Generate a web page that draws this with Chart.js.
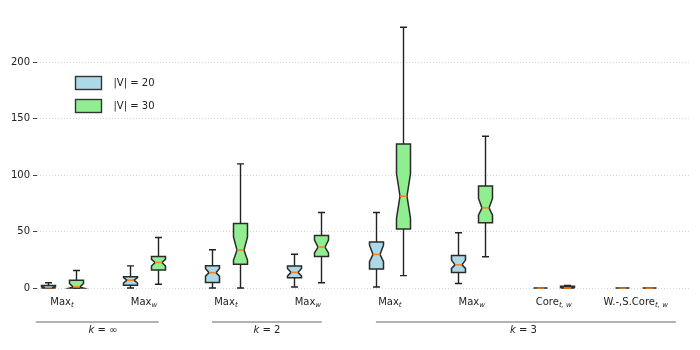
<!DOCTYPE html>
<html>
<head>
<meta charset="utf-8">
<script src="https://cdn.jsdelivr.net/npm/chart.js@4.4.0/dist/chart.umd.min.js"></script>
<style>
  html, body { margin: 0; padding: 0; background: #fff; }
  #wrap { width: 700px; height: 350px; }
</style>
</head>
<body>
<div id="wrap"><canvas id="boxChart" width="700" height="350"></canvas></div>
<script>
// categories: main text + subscript
const catNames = ["Max", "Max", "Max", "Max", "Max", "Max", "Core", "W.-,S.Core"];
const catSubs = ["t", "w", "t", "w", "t", "w", "t, w", "t, w"];

// groups under the axis (k = ...), spans in category units
const groupNames = ["\u221E", "2", "3"];
const groupSpans = [[0.68, 2.18], [2.83, 4.17], [4.83, 8.49]];
const groupLabelX = [1.5, 3.5, 6.63];

const yTicks = [0, 50, 100, 150, 200];

// box stats per category: [whiskerLo, q1, notchLo, median, notchHi, q3, whiskerHi]
const boxesV20 = [
  [0, 0, 0, 0.3, 1.2, 2.3, 4.7],
  [0, 2.6, 4.5, 7, 9.2, 10, 19.7],
  [0, 5, 10.6, 13.6, 17.4, 19.7, 34],
  [1, 9.1, 10.6, 13.9, 17.4, 19.5, 30],
  [1, 16.8, 23.3, 29.8, 38, 40.7, 67],
  [4, 13.9, 17.4, 20.6, 24.8, 28.9, 49],
  [0, 0, 0, 0, 0, 0, 0],
  [0, 0, 0, 0, 0, 0, 0]
];
const boxesV30 = [
  [0, 0, 0, 1, 4, 7, 15.6],
  [3.4, 16, 19.5, 22.7, 25.4, 28, 44.8],
  [0, 21.2, 24.8, 33.6, 45.4, 57.2, 110],
  [4.7, 28, 31.2, 36.3, 42.5, 46.6, 67],
  [11, 52.3, 61.7, 81.4, 101.5, 127.6, 231],
  [27.7, 57.8, 64.6, 71, 79.4, 90.5, 134.5],
  [0, 0, 0, 0, 0.8, 1.6, 2.3],
  [0, 0, 0, 0, 0, 0, 0]
];

const BOX_HALF = 0.09;
const FONT = "'DejaVu Sans', sans-serif";

function medianPoints(stats, offset) {
  return stats.map((s, i) => ({ x: i + 1 + offset, y: s[3] }));
}

const boxPlugin = {
  id: "notchedBoxes",
  afterDatasetsDraw(chart) {
    const { ctx, scales: { x, y } } = chart;
    ctx.save();
    ctx.lineJoin = "miter";
    chart.data.datasets.forEach(ds => {
      ds.stats.forEach((s, i) => {
        const pos = i + 1 + ds.offset;
        const cx = Math.round(x.getPixelForValue(pos)) + 0.5;
        const hw = Math.round(x.getPixelForValue(pos + BOX_HALF) - x.getPixelForValue(pos));
        const [lo, q1, nlo, med, nhi, q3, hi] = s.map(v => y.getPixelForValue(v));
        const L = cx - hw, R = cx + hw;

        // whiskers + caps
        ctx.strokeStyle = "#222";
        ctx.lineWidth = 1.4;
        ctx.beginPath();
        ctx.moveTo(cx, q1); ctx.lineTo(cx, lo);
        ctx.moveTo(cx, q3); ctx.lineTo(cx, hi);
        ctx.moveTo(cx - hw / 2, lo); ctx.lineTo(cx + hw / 2, lo);
        ctx.moveTo(cx - hw / 2, hi); ctx.lineTo(cx + hw / 2, hi);
        ctx.stroke();

        // notched box
        ctx.beginPath();
        ctx.moveTo(L, q1);
        ctx.lineTo(R, q1);
        ctx.lineTo(R, nlo);
        ctx.lineTo(cx + hw / 2, med);
        ctx.lineTo(R, nhi);
        ctx.lineTo(R, q3);
        ctx.lineTo(L, q3);
        ctx.lineTo(L, nhi);
        ctx.lineTo(cx - hw / 2, med);
        ctx.lineTo(L, nlo);
        ctx.closePath();
        ctx.fillStyle = ds.backgroundColor;
        ctx.fill();
        ctx.strokeStyle = "#2a2a2a";
        ctx.lineWidth = 1.5;
        ctx.stroke();

        // median
        ctx.strokeStyle = "#ff7f0e";
        ctx.lineWidth = 1.5;
        ctx.beginPath();
        ctx.moveTo(cx - hw / 2, med);
        ctx.lineTo(cx + hw / 2, med);
        ctx.stroke();
      });
    });
    ctx.restore();
  },
  afterDraw(chart) {
    const { ctx, chartArea, scales: { x } } = chart;
    ctx.save();
    ctx.fillStyle = "#222";
    ctx.textBaseline = "alphabetic";

    // category labels with subscripts
    catNames.forEach((name, i) => {
      const cx = x.getPixelForValue(i + 1);
      ctx.font = "10px " + FONT;
      const w1 = ctx.measureText(name).width;
      ctx.font = "italic 7px " + FONT;
      const w2 = ctx.measureText(catSubs[i]).width;
      const start = cx - (w1 + w2) / 2;
      ctx.font = "10px " + FONT;
      ctx.fillText(name, start, chartArea.bottom + 13.5);
      ctx.font = "italic 7px " + FONT;
      ctx.fillText(catSubs[i], start + w1, chartArea.bottom + 16);
    });

    // group brackets
    groupSpans.forEach((sp, gi) => {
      const yy = chartArea.bottom + 31;
      ctx.strokeStyle = "#999";
      ctx.lineWidth = 1.5;
      ctx.beginPath();
      ctx.moveTo(x.getPixelForValue(sp[0]), yy);
      ctx.lineTo(x.getPixelForValue(sp[1]), yy);
      ctx.stroke();

      const lx = x.getPixelForValue(groupLabelX[gi]);
      ctx.font = "italic 10px " + FONT;
      const wk = ctx.measureText("k").width;
      ctx.font = "10px " + FONT;
      const rest = " = " + groupNames[gi];
      const wr = ctx.measureText(rest).width;
      const st = lx - (wk + wr) / 2;
      ctx.font = "italic 10px " + FONT;
      ctx.fillText("k", st, chartArea.bottom + 41.5);
      ctx.font = "10px " + FONT;
      ctx.fillText(rest, st + wk, chartArea.bottom + 41.5);
    });

    // legend
    chart.data.datasets.forEach((ds, di) => {
      const px = chartArea.left + 38.5;
      const py = chartArea.top + 62.5 + di * 23;
      ctx.fillStyle = ds.backgroundColor;
      ctx.fillRect(px, py, 26, 13);
      ctx.strokeStyle = "#333";
      ctx.lineWidth = 1.4;
      ctx.strokeRect(px, py, 26, 13);
      ctx.fillStyle = "#222";
      ctx.font = "10px " + FONT;
      ctx.textBaseline = "middle";
      ctx.fillText(ds.label, px + 38, py + 6.5);
      ctx.textBaseline = "alphabetic";
    });
    ctx.restore();
  }
};

new Chart(document.getElementById("boxChart"), {
  type: "scatter",
  data: {
    datasets: [
      { label: "|V| = 20", data: medianPoints(boxesV20, -0.166), stats: boxesV20, offset: -0.166,
        backgroundColor: "#add8e6", pointRadius: 0 },
      { label: "|V| = 30", data: medianPoints(boxesV30, 0.166), stats: boxesV30, offset: 0.166,
        backgroundColor: "#90ee90", pointRadius: 0 }
    ]
  },
  options: {
    responsive: false,
    animation: false,
    layout: { padding: { left: 0, top: 14, right: 11, bottom: 59 } },
    plugins: { legend: { display: false }, tooltip: { enabled: false } },
    scales: {
      x: { type: "linear", display: false, min: 0.695, max: 8.65 },
      y: {
        type: "linear",
        min: -2.6,
        max: 242.8,
        afterFit: s => { s.width = 37; },
        afterBuildTicks: s => { s.ticks = yTicks.map(v => ({ value: v })); },
        border: { display: false, dash: [1, 2] },
        grid: { color: "#d4d4d4", lineWidth: 1, tickColor: "#444", tickLength: 4 },
        ticks: { color: "#222", padding: 3, font: { family: "DejaVu Sans", size: 10 } }
      }
    }
  },
  plugins: [boxPlugin]
});
</script>
</body>
</html>
